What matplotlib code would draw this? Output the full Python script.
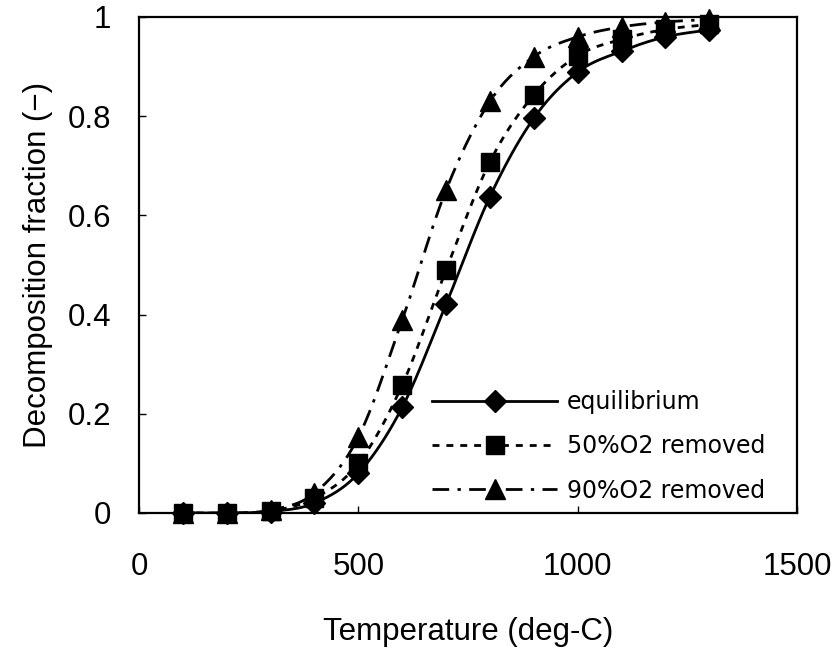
import numpy as np
import matplotlib
matplotlib.use('Agg')
import matplotlib.pyplot as plt
from matplotlib.lines import Line2D

# data
temperature = [100, 200, 300, 400, 500, 600, 700, 800, 900, 1000, 1100, 1200, 1300]
equilibrium = [0.0, 0.0, 0.003, 0.02, 0.08, 0.213, 0.421, 0.638, 0.796, 0.889, 0.931, 0.960, 0.974]
removed_50 = [0.0, 0.0, 0.004, 0.03, 0.10, 0.258, 0.490, 0.708, 0.843, 0.922, 0.955, 0.975, 0.985]
removed_90 = [0.0, 0.0, 0.006, 0.04, 0.153, 0.389, 0.651, 0.830, 0.920, 0.960, 0.980, 0.990, 0.995]
labels = ['equilibrium', '50%O2 removed', '90%O2 removed']

x_ticks = [0, 500, 1000, 1500]
y_ticks = [0, 0.2, 0.4, 0.6, 0.8, 1]
y_tick_labels = ['0', '0.2', '0.4', '0.6', '0.8', '1']


def smooth(x, y, steps=20):
    """Catmull-Rom curve through the points, like a smoothed spreadsheet line."""
    x = np.asarray(x, float)
    y = np.asarray(y, float)
    px = np.concatenate([[x[0]], x, [x[-1]]])
    py = np.concatenate([[y[0]], y, [y[-1]]])
    xs, ys = [], []
    t = np.linspace(0, 1, steps, endpoint=False)
    for i in range(1, len(px) - 2):
        for p, out in ((px, xs), (py, ys)):
            p0, p1, p2, p3 = p[i - 1], p[i], p[i + 1], p[i + 2]
            out.extend(0.5 * ((2 * p1) + (-p0 + p2) * t
                              + (2 * p0 - 5 * p1 + 4 * p2 - p3) * t ** 2
                              + (-p0 + 3 * p1 - 3 * p2 + p3) * t ** 3))
    xs.append(x[-1])
    ys.append(y[-1])
    return np.array(xs), np.array(ys)


plt.rcParams['font.family'] = ['Liberation Sans', 'DejaVu Sans']

fig = plt.figure(figsize=(8.36, 6.51), dpi=100)
ax = fig.add_axes([139 / 836, 1 - 513 / 651, 658 / 836, 496 / 651])

styles = [
    dict(marker='D', ms=11, dashes=()),
    dict(marker='s', ms=13, dashes=(2.5, 2.5)),
    dict(marker='^', ms=15, dashes=(6, 3, 1.2, 3)),
]
lw = 2

handles = []
for values, st, label in zip([equilibrium, removed_50, removed_90], styles, labels):
    sx, sy = smooth(temperature, values)
    line, = ax.plot(sx, sy, color='black', lw=lw)
    if st['dashes']:
        line.set_dashes(st['dashes'])
    ax.plot(temperature, values, linestyle='none', marker=st['marker'], ms=st['ms'],
            color='black', clip_on=False, zorder=3)
    h = Line2D([], [], color='black', lw=lw, marker=st['marker'], ms=st['ms'])
    if st['dashes']:
        h.set_dashes(st['dashes'])
    handles.append(h)

ax.set_xlim(0, 1500)
ax.set_ylim(0, 1)
ax.set_xticks(x_ticks)
ax.set_yticks(y_ticks)
ax.set_yticklabels(y_tick_labels)
ax.tick_params(direction='in', length=5, width=1, labelsize=22.5)
ax.tick_params(axis='x', pad=28)
ax.tick_params(axis='y', pad=20)
for sp in ax.spines.values():
    sp.set_linewidth(1.6)

ax.set_xlabel('Temperature (deg-C)', fontsize=22.5)
ax.xaxis.set_label_coords(0.5, -0.21)
ax.set_ylabel('Decomposition fraction (\u2212)', fontsize=22.5)
ax.yaxis.set_label_coords(-0.13, 0.5)

ax.legend(handles, labels, loc='upper left', bbox_to_anchor=((432 - 139) / 658, (513 - 390) / 496),
          frameon=False, borderpad=0, borderaxespad=0, handlelength=5.3, handletextpad=0.4,
          labelspacing=0.86, prop={'family': 'DejaVu Sans', 'size': 17})

fig.savefig('out.png', dpi=100)
